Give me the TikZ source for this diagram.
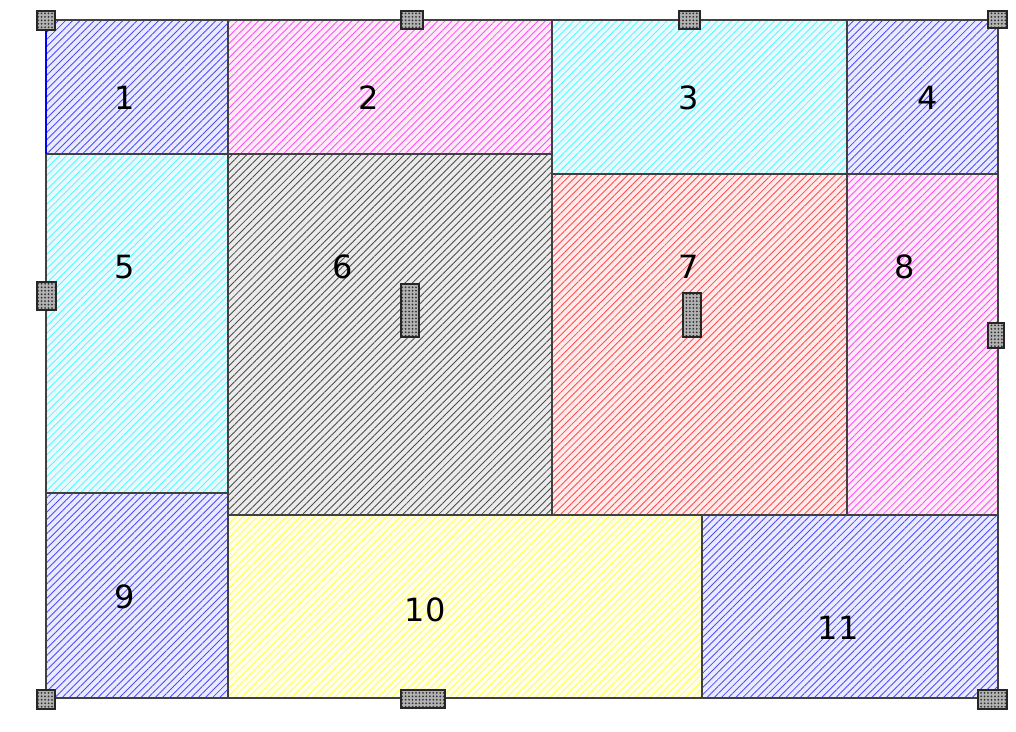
\documentclass[tikz,border=0pt]{standalone}
\usepackage{fontspec}
\setmainfont{DejaVu Sans}
\usetikzlibrary{patterns.meta}
\tikzset{
  px/.style={x=0.75pt,y=-0.75pt},
  cellbox/.style={draw=black!75,line width=1pt,
    pattern={Lines[angle=45,distance=3.8pt,line width=0.65pt]},pattern color=#1},
  cellfill/.style={fill=#1!8},
  lbl/.style={font=\fontsize{24}{27}\selectfont,text=black,inner sep=0pt},
  handle/.style={draw=black!85,line width=0.9pt,
    pattern={Dots[distance=2.6pt,radius=0.75pt]},pattern color=black!80},
}
\newcommand{\cell}[9]{%
  \path[cellfill=#6] (#2,#3) rectangle (#4,#5);
  \path[cellbox=#6!70] (#2,#3) rectangle (#4,#5);
  \node[lbl] (#1) at (#8,#9) {#7};
}
\newcommand{\hdl}[5]{%
  \path[fill=gray!60] (#2,#3) rectangle (#4,#5);
  \node[handle,inner sep=0pt,minimum width={(#4-#2)*0.75pt},minimum height={(#5-#3)*0.75pt}] (#1) at ({(#2+#4)/2},{(#3+#5)/2}) {};
}
\begin{document}
\begin{tikzpicture}[px]
\useasboundingbox (0,0) rectangle (1016,731);
\fill[white] (0,0) rectangle (1016,731);
\cell{c1}{46}{20}{228}{154}{blue}{1}{125}{98}
\cell{c2}{228}{20}{552}{154}{magenta}{2}{369}{98}
\cell{c3}{552}{20}{847}{174}{cyan}{3}{689}{98}
\cell{c4}{847}{20}{998}{174}{blue}{4}{928}{98}
\cell{c5}{46}{154}{228}{493}{cyan}{5}{125}{267}
\cell{c6}{228}{154}{552}{515}{black}{6}{343}{267}
\cell{c7}{552}{174}{847}{515}{red}{7}{689}{267}
\cell{c8}{847}{174}{998}{515}{magenta}{8}{905}{267}
\cell{c9}{46}{493}{228}{698}{blue}{9}{125}{597}
\cell{c10}{228}{515}{702}{698}{yellow}{10}{425}{610}
\cell{c11}{702}{515}{998}{698}{blue}{11}{838}{628}
\draw[blue,line width=1pt] (46,20) -- (46,154);
\hdl{h1}{37}{11}{55}{30}
\hdl{h2}{401}{11}{423}{29}
\hdl{h3}{679}{11}{700}{29}
\hdl{h4}{988}{11}{1007}{28}
\hdl{h5}{37}{282}{56}{310}
\hdl{h6}{988}{323}{1004}{348}
\hdl{h7}{37}{690}{55}{709}
\hdl{h8}{401}{690}{445}{708}
\hdl{h9}{978}{690}{1007}{709}
\hdl{h10}{401}{284}{419}{337}
\hdl{h11}{683}{293}{701}{337}
\end{tikzpicture}
\end{document}
